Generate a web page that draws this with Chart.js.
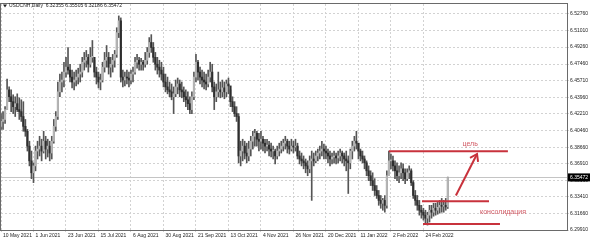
<!DOCTYPE html>
<html>
<head>
<meta charset="utf-8">
<script src="https://cdn.jsdelivr.net/npm/chart.js@4.4.0/dist/chart.umd.min.js"></script>
<style>
  html, body { margin: 0; padding: 0; background: #fff; }
  #chartContainer { width: 590px; height: 243px; position: relative; }
</style>
</head>
<body>
<div id="chartContainer"><canvas id="usdcnhChart"></canvas></div>
<script>
// USDCNH daily, 10 May 2021 .. 14 Mar 2022 (bar index = trading day)
const symbolTitle = 'USDCNH,Daily';

const dateLabels = ['10 May 2021', '1 Jun 2021', '23 Jun 2021', '15 Jul 2021', '6 Aug 2021', '30 Aug 2021',
  '21 Sep 2021', '13 Oct 2021', '4 Nov 2021', '26 Nov 2021', '20 Dec 2021', '11 Jan 2022', '2 Feb 2022', '24 Feb 2022'];
const dateLabelBars = [0, 16, 32, 48, 64, 80, 96, 112, 128, 144, 160, 176, 192, 208];

const priceTicks = [6.29910, 6.31660, 6.33410, 6.35160, 6.36910, 6.38660, 6.40460,
  6.42210, 6.43960, 6.45710, 6.47460, 6.49260, 6.51010, 6.52760];

const opens = [
  6.4087, 6.4139, 6.4160, 6.4264, 6.4473, 6.4400, 6.4348, 6.4295, 6.4327, 6.4264,
  6.4243, 6.4191, 6.4087, 6.4035, 6.3878, 6.3722, 6.3596, 6.3669, 6.3826, 6.3847,
  6.3878, 6.3826, 6.3930, 6.3847, 6.3878, 6.3805, 6.3930, 6.4087, 6.4191, 6.4452,
  6.4556, 6.4577, 6.4661, 6.4713, 6.4682, 6.4608, 6.4556, 6.4577, 6.4608, 6.4640,
  6.4661, 6.4765, 6.4786, 6.4817, 6.4744, 6.4817, 6.4817, 6.4661, 6.4608, 6.4556,
  6.4577, 6.4713, 6.4786, 6.4817, 6.4713, 6.4744, 6.4786, 6.4848, 6.5078, 6.5203,
  6.4608, 6.4577, 6.4608, 6.4598, 6.4577, 6.4640, 6.4661, 6.4765, 6.4786, 6.4744,
  6.4765, 6.4744, 6.4786, 6.4869, 6.4974, 6.4921, 6.4817, 6.4744, 6.4713, 6.4682,
  6.4640, 6.4556, 6.4504, 6.4473, 6.4452, 6.4400, 6.4431, 6.4504, 6.4535, 6.4473,
  6.4452, 6.4400, 6.4368, 6.4327, 6.4264, 6.4400, 6.4608, 6.4765, 6.4661, 6.4608,
  6.4577, 6.4556, 6.4535, 6.4608, 6.4661, 6.4504, 6.4400, 6.4452, 6.4473, 6.4452,
  6.4494, 6.4452, 6.4535, 6.4515, 6.4348, 6.4295, 6.4222, 6.4191, 6.3774, 6.3826,
  6.3878, 6.3805, 6.3774, 6.3847, 6.3930, 6.3982, 6.4014, 6.3951, 6.3930, 6.3951,
  6.3909, 6.3878, 6.3889, 6.3847, 6.3826, 6.3826, 6.3774, 6.3826, 6.3847, 6.3878,
  6.3909, 6.3930, 6.3878, 6.3847, 6.3878, 6.3868, 6.3878, 6.3774, 6.3742, 6.3722,
  6.3701, 6.3669, 6.3638, 6.3722, 6.3742, 6.3722, 6.3774, 6.3805, 6.3826, 6.3847,
  6.3826, 6.3805, 6.3774, 6.3742, 6.3763, 6.3774, 6.3753, 6.3774, 6.3805, 6.3774,
  6.3742, 6.3722, 6.3701, 6.3826, 6.3878, 6.3930, 6.3909, 6.3826, 6.3774, 6.3742,
  6.3701, 6.3617, 6.3565, 6.3513, 6.3461, 6.3409, 6.3356, 6.3304, 6.3273, 6.3304,
  6.3252, 6.3565, 6.3722, 6.3722, 6.3669, 6.3617, 6.3565, 6.3596, 6.3638, 6.3596,
  6.3534, 6.3596, 6.3617, 6.3492, 6.3356, 6.3304, 6.3252, 6.3200, 6.3179, 6.3148,
  6.3116, 6.3148, 6.3200, 6.3179, 6.3221, 6.3200, 6.3231, 6.3252, 6.3242, 6.3252,
  6.32355
];
const highs = [
  6.4222, 6.4243, 6.4295, 6.4588, 6.4504, 6.4473, 6.4421, 6.4400, 6.4431, 6.4389,
  6.4368, 6.4348, 6.4160, 6.4055, 6.3930, 6.3826, 6.3701, 6.3878, 6.3930, 6.3982,
  6.3951, 6.4035, 6.3982, 6.3951, 6.3930, 6.3982, 6.4160, 6.4243, 6.4556, 6.4640,
  6.4661, 6.4765, 6.4817, 6.4921, 6.4744, 6.4682, 6.4661, 6.4682, 6.4702, 6.4744,
  6.4817, 6.4869, 6.4890, 6.4848, 6.4921, 6.4995, 6.4786, 6.4713, 6.4661, 6.4640,
  6.4765, 6.4869, 6.4942, 6.4869, 6.4817, 6.4848, 6.4890, 6.5130, 6.5255, 6.5234,
  6.4682, 6.4661, 6.4682, 6.4661, 6.4682, 6.4713, 6.4817, 6.4848, 6.4817, 6.4807,
  6.4786, 6.4869, 6.4921, 6.5026, 6.5057, 6.4974, 6.4869, 6.4817, 6.4786, 6.4765,
  6.4713, 6.4640, 6.4608, 6.4556, 6.4535, 6.4504, 6.4577, 6.4598, 6.4577, 6.4556,
  6.4504, 6.4473, 6.4452, 6.4400, 6.4452, 6.4661, 6.4848, 6.4786, 6.4713, 6.4682,
  6.4661, 6.4640, 6.4682, 6.4765, 6.4744, 6.4556, 6.4535, 6.4661, 6.4556, 6.4577,
  6.4556, 6.4577, 6.4598, 6.4473, 6.4400, 6.4348, 6.4295, 6.4222, 6.3930, 6.3951,
  6.3930, 6.3909, 6.3930, 6.3982, 6.4035, 6.4055, 6.4035, 6.4014, 6.4035, 6.3982,
  6.3951, 6.3951, 6.3930, 6.3909, 6.3878, 6.3847, 6.3878, 6.3909, 6.3930, 6.3951,
  6.3982, 6.3951, 6.3930, 6.3951, 6.3930, 6.3951, 6.3909, 6.3826, 6.3805, 6.3774,
  6.3742, 6.3722, 6.3774, 6.3826, 6.3805, 6.3826, 6.3847, 6.3878, 6.3930, 6.3899,
  6.3878, 6.3847, 6.3826, 6.3805, 6.3826, 6.3805, 6.3826, 6.3847, 6.3826, 6.3805,
  6.3826, 6.3774, 6.3847, 6.3930, 6.3982, 6.4035, 6.3909, 6.3847, 6.3826, 6.3774,
  6.3722, 6.3669, 6.3617, 6.3596, 6.3534, 6.3461, 6.3409, 6.3356, 6.3325, 6.3356,
  6.3617, 6.3826, 6.3795, 6.3774, 6.3722, 6.3701, 6.3669, 6.3701, 6.3690, 6.3638,
  6.3638, 6.3669, 6.3638, 6.3513, 6.3409, 6.3356, 6.3304, 6.3252, 6.3221, 6.3200,
  6.3179, 6.3252, 6.3252, 6.3273, 6.3273, 6.3283, 6.3304, 6.3325, 6.3304, 6.3325,
  6.35505
];
const lows = [
  6.4055, 6.4055, 6.4118, 6.4264, 6.4348, 6.4243, 6.4222, 6.4191, 6.4243, 6.4160,
  6.4139, 6.4035, 6.3982, 6.3826, 6.3669, 6.3534, 6.3492, 6.3617, 6.3742, 6.3774,
  6.3722, 6.3805, 6.3742, 6.3763, 6.3722, 6.3742, 6.3909, 6.4035, 6.4160, 6.4400,
  6.4452, 6.4504, 6.4608, 6.4640, 6.4556, 6.4494, 6.4473, 6.4515, 6.4535, 6.4556,
  6.4608, 6.4682, 6.4713, 6.4661, 6.4713, 6.4765, 6.4608, 6.4535, 6.4494, 6.4473,
  6.4556, 6.4661, 6.4713, 6.4640, 6.4608, 6.4661, 6.4713, 6.4817, 6.5026, 6.4556,
  6.4504, 6.4515, 6.4535, 6.4504, 6.4535, 6.4556, 6.4640, 6.4702, 6.4682, 6.4682,
  6.4682, 6.4713, 6.4744, 6.4817, 6.4869, 6.4765, 6.4682, 6.4640, 6.4608, 6.4577,
  6.4504, 6.4452, 6.4431, 6.4400, 6.4368, 6.4222, 6.4400, 6.4431, 6.4400, 6.4389,
  6.4348, 6.4295, 6.4264, 6.4222, 6.4222, 6.4368, 6.4556, 6.4577, 6.4535, 6.4504,
  6.4483, 6.4473, 6.4504, 6.4556, 6.4452, 6.4264, 6.4348, 6.4400, 6.4389, 6.4400,
  6.4379, 6.4400, 6.4431, 6.4295, 6.4243, 6.4191, 6.4139, 6.3701, 6.3669, 6.3722,
  6.3742, 6.3701, 6.3722, 6.3774, 6.3847, 6.3878, 6.3878, 6.3826, 6.3847, 6.3826,
  6.3805, 6.3826, 6.3774, 6.3763, 6.3742, 6.3690, 6.3742, 6.3774, 6.3805, 6.3826,
  6.3847, 6.3805, 6.3795, 6.3826, 6.3805, 6.3826, 6.3742, 6.3690, 6.3669, 6.3638,
  6.3596, 6.3565, 6.3596, 6.3304, 6.3669, 6.3701, 6.3722, 6.3742, 6.3774, 6.3742,
  6.3742, 6.3701, 6.3669, 6.3690, 6.3701, 6.3690, 6.3701, 6.3722, 6.3701, 6.3669,
  6.3617, 6.3377, 6.3638, 6.3742, 6.3826, 6.3847, 6.3742, 6.3722, 6.3701, 6.3638,
  6.3565, 6.3513, 6.3461, 6.3409, 6.3356, 6.3325, 6.3252, 6.3221, 6.3200, 6.3179,
  6.3221, 6.3565, 6.3638, 6.3617, 6.3534, 6.3513, 6.3492, 6.3534, 6.3513, 6.3482,
  6.3513, 6.3534, 6.3461, 6.3325, 6.3252, 6.3200, 6.3148, 6.3116, 6.3096, 6.3054,
  6.3043, 6.3075, 6.3116, 6.3137, 6.3148, 6.3158, 6.3169, 6.3179, 6.3179, 6.3200,
  6.32186
];
const closes = [
  6.4139, 6.4160, 6.4264, 6.4473, 6.4400, 6.4348, 6.4295, 6.4327, 6.4264, 6.4243,
  6.4191, 6.4087, 6.4035, 6.3878, 6.3722, 6.3596, 6.3669, 6.3826, 6.3847, 6.3878,
  6.3826, 6.3930, 6.3847, 6.3878, 6.3805, 6.3930, 6.4087, 6.4191, 6.4452, 6.4556,
  6.4577, 6.4661, 6.4713, 6.4682, 6.4608, 6.4556, 6.4577, 6.4608, 6.4640, 6.4661,
  6.4765, 6.4786, 6.4817, 6.4744, 6.4817, 6.4817, 6.4661, 6.4608, 6.4556, 6.4577,
  6.4713, 6.4786, 6.4817, 6.4713, 6.4744, 6.4786, 6.4848, 6.5078, 6.5203, 6.4608,
  6.4577, 6.4608, 6.4598, 6.4577, 6.4640, 6.4661, 6.4765, 6.4786, 6.4744, 6.4765,
  6.4744, 6.4786, 6.4869, 6.4974, 6.4921, 6.4817, 6.4744, 6.4713, 6.4682, 6.4640,
  6.4556, 6.4504, 6.4473, 6.4452, 6.4400, 6.4431, 6.4504, 6.4535, 6.4473, 6.4452,
  6.4400, 6.4368, 6.4327, 6.4264, 6.4400, 6.4608, 6.4765, 6.4661, 6.4608, 6.4577,
  6.4556, 6.4535, 6.4608, 6.4661, 6.4504, 6.4400, 6.4452, 6.4473, 6.4452, 6.4494,
  6.4452, 6.4535, 6.4515, 6.4348, 6.4295, 6.4222, 6.4191, 6.3774, 6.3826, 6.3878,
  6.3805, 6.3774, 6.3847, 6.3930, 6.3982, 6.4014, 6.3951, 6.3930, 6.3951, 6.3909,
  6.3878, 6.3889, 6.3847, 6.3826, 6.3826, 6.3774, 6.3826, 6.3847, 6.3878, 6.3909,
  6.3930, 6.3878, 6.3847, 6.3878, 6.3868, 6.3878, 6.3774, 6.3742, 6.3722, 6.3701,
  6.3669, 6.3638, 6.3722, 6.3742, 6.3722, 6.3774, 6.3805, 6.3826, 6.3847, 6.3826,
  6.3805, 6.3774, 6.3742, 6.3763, 6.3774, 6.3753, 6.3774, 6.3805, 6.3774, 6.3742,
  6.3722, 6.3701, 6.3826, 6.3878, 6.3930, 6.3909, 6.3826, 6.3774, 6.3742, 6.3701,
  6.3617, 6.3565, 6.3513, 6.3461, 6.3409, 6.3356, 6.3304, 6.3273, 6.3304, 6.3252,
  6.3565, 6.3722, 6.3722, 6.3669, 6.3617, 6.3565, 6.3596, 6.3638, 6.3596, 6.3534,
  6.3596, 6.3617, 6.3492, 6.3356, 6.3304, 6.3252, 6.3200, 6.3179, 6.3148, 6.3116,
  6.3148, 6.3200, 6.3179, 6.3221, 6.3200, 6.3231, 6.3252, 6.3242, 6.3252, 6.32355,
  6.35472
];

// hand-drawn analysis objects (bar index, price)
const targetLine = [{ x: 191, y: 6.3823 }, { x: 249.6, y: 6.3823 }];
const rangeTopLine = [{ x: 207.3, y: 6.3294 }, { x: 240.3, y: 6.3294 }];
const rangeBottomLine = [{ x: 207.8, y: 6.3054 }, { x: 245.7, y: 6.3054 }];
const arrowLine = [{ x: 224.0, y: 6.3356 }, { x: 234.4, y: 6.3795 }];
const notes = [
  { text: 'цель', x: 231, y: 6.3899 },
  { text: 'консолидация', x: 247.2, y: 6.3179 }
];

const RED = '#c8323c';
const NOTE_RED = '#d25a64';
const FONT = 'Liberation Sans, Arial, sans-serif';

const wickData = highs.map((h, i) => ({ x: i, y: [lows[i], h] }));
const bodyData = opens.map((o, i) => ({ x: i, y: [o, closes[i]] }));
const bodyColors = opens.map((o, i) => closes[i] >= o ? '#b4b4b4' : '#2e2e2e');

function redLine(points) {
    return {
        type: 'line',
        data: points,
        borderColor: RED,
        borderWidth: 2,
        pointRadius: 0,
        order: 0
    };
}

// frame, title, bid line, price box, arrow head, notes
const overlayPlugin = {
    id: 'mt4Overlay',
    beforeDatasetsDraw(chart) {
        const { ctx, chartArea, scales } = chart;
        const bidY = Math.round(scales.y.getPixelForValue(closes[closes.length - 1])) + 0.5;
        ctx.save();
        ctx.strokeStyle = '#c4c4c4';
        ctx.lineWidth = 1;
        ctx.beginPath();
        ctx.moveTo(chartArea.left, bidY);
        ctx.lineTo(chartArea.right, bidY);
        ctx.stroke();
        ctx.restore();
    },
    afterDraw(chart) {
        const { ctx, chartArea, scales } = chart;
        const last = closes.length - 1;
        ctx.save();

        // frame
        ctx.strokeStyle = '#6a6a6a';
        ctx.lineWidth = 1;
        ctx.strokeRect(chartArea.left - 0.5, chartArea.top - 0.5,
            chartArea.right - chartArea.left + 1, chartArea.bottom - chartArea.top + 1);

        // title
        ctx.fillStyle = '#222';
        ctx.beginPath();
        ctx.moveTo(3, 4.5);
        ctx.lineTo(7, 4.5);
        ctx.lineTo(5, 7.5);
        ctx.closePath();
        ctx.fill();
        ctx.font = '5px ' + FONT;
        ctx.textBaseline = 'middle';
        ctx.textAlign = 'left';
        const ohlc = [opens[last], highs[last], lows[last], closes[last]].map(v => v.toFixed(5)).join(' ');
        ctx.fillText(symbolTitle + '  ' + ohlc, 9, 6);

        // current price box
        const py = scales.y.getPixelForValue(closes[last]);
        ctx.fillStyle = '#000';
        ctx.fillRect(chartArea.right + 1, py - 4, 23, 8);
        ctx.fillStyle = '#fff';
        ctx.fillText(closes[last].toFixed(5), chartArea.right + 3, py + 0.5);

        // arrow head
        const meta = chart.getDatasetMeta(3);
        const p0 = meta.data[0], p1 = meta.data[1];
        const ang = Math.atan2(p1.y - p0.y, p1.x - p0.x);
        ctx.strokeStyle = RED;
        ctx.lineWidth = 2;
        ctx.beginPath();
        ctx.moveTo(p1.x - 8 * Math.cos(ang - 0.6), p1.y - 8 * Math.sin(ang - 0.6));
        ctx.lineTo(p1.x, p1.y);
        ctx.lineTo(p1.x - 8 * Math.cos(ang + 0.6), p1.y - 8 * Math.sin(ang + 0.6));
        ctx.stroke();

        // notes
        ctx.fillStyle = NOTE_RED;
        ctx.font = '7px ' + FONT;
        ctx.textAlign = 'center';
        notes.forEach(n => {
            ctx.fillText(n.text, scales.x.getPixelForValue(n.x), scales.y.getPixelForValue(n.y));
        });
        ctx.restore();
    }
};

function initUsdcnhChart() {
    const ctx = document.getElementById('usdcnhChart').getContext('2d');

    new Chart(ctx, {
        type: 'bar',
        data: {
            datasets: [
                redLine(targetLine),
                redLine(rangeTopLine),
                redLine(rangeBottomLine),
                redLine(arrowLine),
                {
                    data: bodyData,
                    backgroundColor: bodyColors,
                    barThickness: 1.5,
                    minBarLength: 1,
                    grouped: false,
                    order: 1
                },
                {
                    data: wickData,
                    backgroundColor: '#555555',
                    barThickness: 1,
                    grouped: false,
                    order: 2
                }
            ]
        },
        options: {
            responsive: true,
            maintainAspectRatio: false,
            animation: false,
            layout: { padding: { top: 1, left: 1, right: 0, bottom: 0 } },
            plugins: {
                legend: { display: false },
                tooltip: { enabled: false }
            },
            scales: {
                x: {
                    type: 'linear',
                    min: 0,
                    max: 278.7,
                    offset: false,
                    afterBuildTicks: scale => {
                        scale.ticks = dateLabelBars.map(v => ({ value: v }));
                    },
                    afterFit: scale => { scale.height = 13; },
                    ticks: {
                        autoSkip: false,
                        maxRotation: 0,
                        align: 'start',
                        labelOffset: 2,
                        padding: 1,
                        color: '#222',
                        font: { family: FONT, size: 5 },
                        callback: (value, index) => dateLabels[index]
                    },
                    grid: { color: '#d2d2d2', offset: false, tickLength: 2 },
                    border: { display: false, dash: [2, 2] }
                },
                y: {
                    position: 'right',
                    min: 6.2991,
                    max: 6.5381,
                    afterBuildTicks: scale => {
                        scale.ticks = priceTicks.map(v => ({ value: v }));
                    },
                    afterFit: scale => { scale.width = 23; },
                    ticks: {
                        padding: 1,
                        color: '#222',
                        font: { family: FONT, size: 5 },
                        callback: value => value.toFixed(5)
                    },
                    grid: { color: '#d2d2d2', tickLength: 2 },
                    border: { display: false, dash: [2, 2] }
                }
            }
        },
        plugins: [overlayPlugin]
    });
}

initUsdcnhChart();
</script>
</body>
</html>
